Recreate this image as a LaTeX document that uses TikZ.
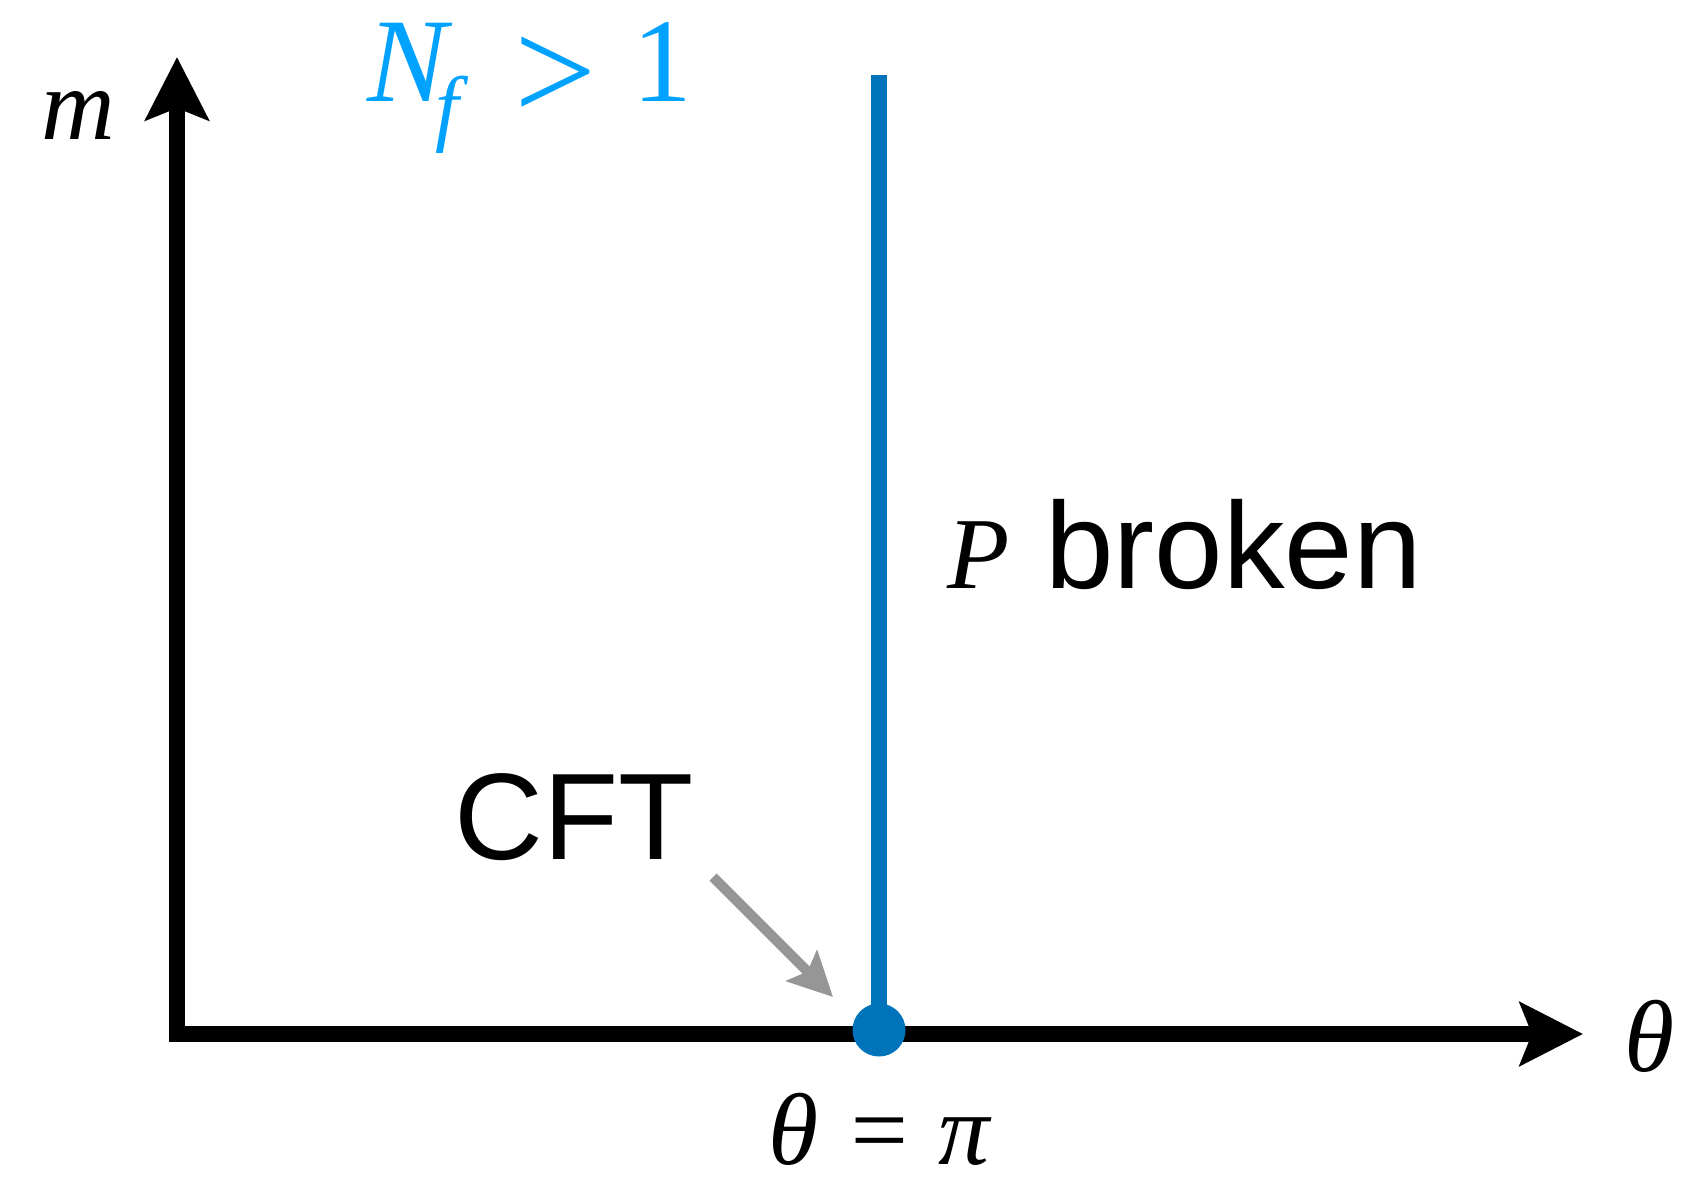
\documentclass[tikz,border=0pt]{standalone}
\usepackage{fontspec}
\setmainfont{Liberation Serif}
\setsansfont{Liberation Sans}
\usetikzlibrary{arrows.meta, positioning}
\definecolor{pathblue}{RGB}{0,115,187}
\definecolor{nfblue}{RGB}{0,162,255}
\definecolor{pointergray}{RGB}{150,150,150}
\tikzset{
  axisline/.style={line width=1.6mm, line join=miter,
    {Stealth[length=6.3mm, width=6.3mm, inset=1.2mm]}-{Stealth[length=6.3mm, width=6.3mm, inset=1.2mm]}},
  phaseline/.style={pathblue, line width=1.6mm},
  critpoint/.style={circle, fill=pathblue, inner sep=0pt, minimum size=5.3mm},
  pointer/.style={pointergray, line width=1mm, -{Stealth[length=4.4mm, width=4.3mm, inset=0.8mm]}},
  mathlabel/.style={font=\fontsize{29}{34}\selectfont\itshape, inner sep=0pt, anchor=base, text depth=0pt},
  wordlabel/.style={font=\sffamily\fontsize{35}{42}\selectfont, inner sep=0pt, anchor=base}
}

\begin{document}
\begin{tikzpicture}[x=0.01cm, y=-0.01cm]
    \useasboundingbox (0,0) rectangle (1685,1177);

    % 1. Ejes
    \coordinate (mtop) at (177,57);
    \coordinate (corner) at (177,1034);
    \coordinate (thetaend) at (1583,1034);
    \draw[axisline] (mtop) -- (corner) -- (thetaend);

    \node[mathlabel] (mlabel) at (78,140) {m};
    \node[mathlabel] (thetalabel) at (1650,1072) {θ};

    % 2. Linea de fase y punto critico
    \node[critpoint] (crit) at (879,1030) {};
    \coordinate (phasetop) at (879,75);
    \draw[phaseline] (phasetop) -- (crit.center);
    \node[mathlabel] (thetapi) at (879,1165) {θ = π};

    % 3. Etiquetas
    \node[inner sep=0pt, anchor=base west, text=nfblue,
          font=\fontsize{34}{40}\selectfont] (nflabel) at (367,102)
        {\textit{N}\kern-5pt\raisebox{-9.4pt}{\fontsize{24}{28}\selectfont\textit{f}}\hspace{13pt}\raisebox{-5.4pt}{\scalebox{1.22}{>}}\hspace{10.3pt}1};
    \node[wordlabel, anchor=base west] (pbroken) at (947,589)
        {{\rmfamily\itshape\fontsize{29}{34}\selectfont P}\hspace{10pt}broken};
    \node[wordlabel] (cft) at (574,860) {CFT};

    % 4. Flecha CFT
    \coordinate (cftstart) at (713,877);
    \coordinate (cfttip) at (833,997);
    \draw[pointer] (cftstart) -- (cfttip);

\end{tikzpicture}
\end{document}
